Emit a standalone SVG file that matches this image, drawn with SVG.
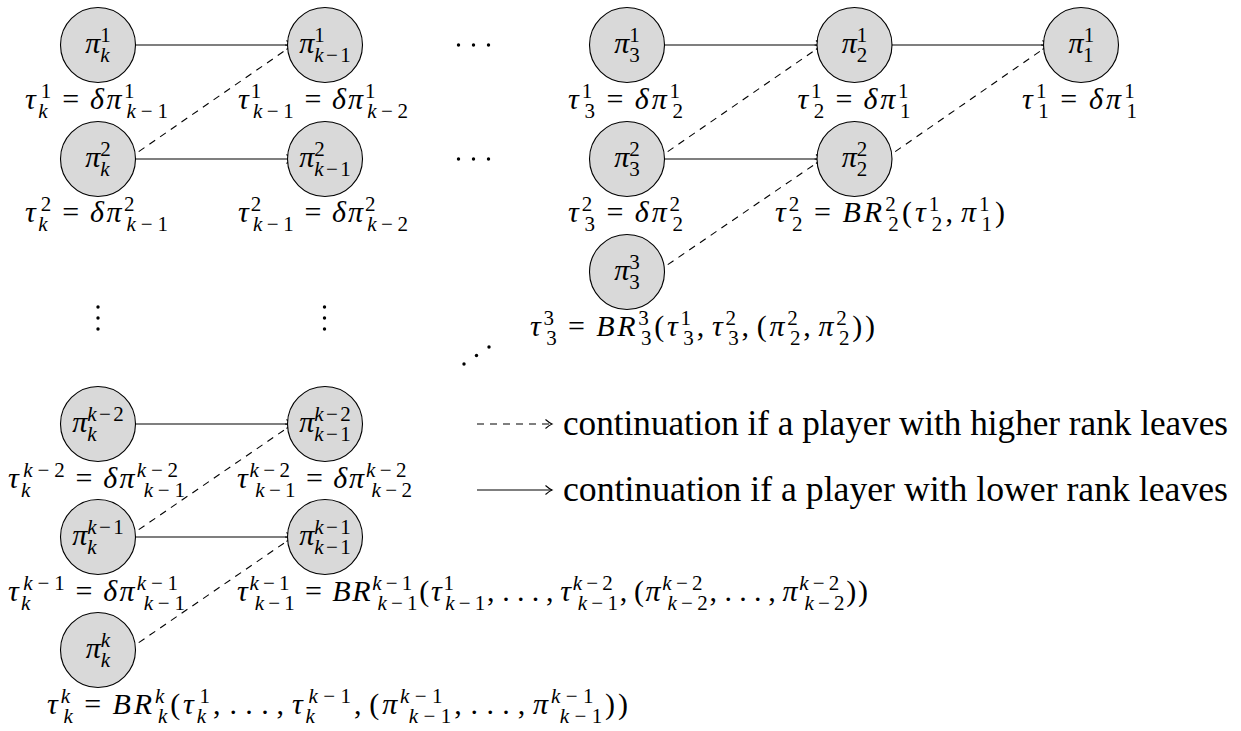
<svg xmlns="http://www.w3.org/2000/svg" width="1241" height="731" viewBox="0 0 1241 731">
<style>
.m{font-family:"Liberation Serif","DejaVu Serif",serif;font-size:30px;fill:#000}
.i{font-style:italic}
.s{font-size:21px}
.leg{font-family:"Liberation Serif","DejaVu Serif",serif;font-size:35px;fill:#000}
.nd{fill:#d9d9d9;stroke:#000;stroke-width:1.1}
.c{fill:none;stroke:#000;stroke-width:1.1;marker-end:url(#ah)}
.d{stroke-dasharray:7 6}
.dot{fill:#000}
</style>
<defs>
<marker id="ah" markerWidth="10" markerHeight="12" viewBox="-8 -6 10 12" refX="0" refY="0" orient="auto" markerUnits="userSpaceOnUse">
<path d="M-6.5,-4.5 Q-2.5,-1 0,0 Q-2.5,1 -6.5,4.5" fill="none" stroke="#000" stroke-width="1.1"/>
</marker>
</defs>
<rect width="1241" height="731" fill="#fff"/>

<g id="connectors">
<path class="c" d="M128,45 H293"/>
<path class="c" d="M128,159 H293"/>
<path class="c" d="M657,45 H822.5"/>
<path class="c" d="M884.5,45 H1049"/>
<path class="c" d="M657,159 H822.5"/>
<path class="c" d="M128,424 H293"/>
<path class="c" d="M128,537 H293"/>
<path class="c d" d="M128,159 L293,45"/>
<path class="c d" d="M657,159 L822.5,45"/>
<path class="c d" d="M657,272 L822.5,159"/>
<path class="c d" d="M884.5,159 L1049,45"/>
<path class="c d" d="M128,537 L293,424"/>
<path class="c d" d="M128,650 L293,537"/>
</g>

<g id="node-k-1">
<circle class="nd" cx="98" cy="45" r="37.5"/>
<text class="m" x="98" y="53" text-anchor="middle"><tspan class="i">π</tspan><tspan class="s i" dy="9">k</tspan><tspan class="s" dx="-9.32" dy="-20">1</tspan></text>
<text class="m" x="96.5" y="108.5" text-anchor="middle" textLength="143" lengthAdjust="spacing"><tspan class="i">τ</tspan><tspan class="s i" dy="9">k</tspan><tspan class="s" dx="-9.32" dy="-20">1</tspan><tspan dx="8.5" dy="11">=</tspan><tspan class="i" dx="8.5">δπ</tspan><tspan class="s" dy="-11">1</tspan><tspan class="s" dx="-10.5" dy="20"><tspan class="i">k</tspan><tspan dx="2.5">−</tspan><tspan dx="2.5">1</tspan></tspan></text>
</g>
<g id="node-km1-1">
<circle class="nd" cx="325" cy="45" r="37.5"/>
<text class="m" x="325" y="53" text-anchor="middle"><tspan class="i">π</tspan><tspan class="s" dy="-11">1</tspan><tspan class="s" dx="-10.5" dy="20"><tspan class="i">k</tspan><tspan dx="2.5">−</tspan><tspan dx="2.5">1</tspan></tspan></text>
<text class="m" x="323" y="108.5" text-anchor="middle" textLength="170" lengthAdjust="spacing"><tspan class="i">τ</tspan><tspan class="s" dy="-11">1</tspan><tspan class="s" dx="-10.5" dy="20"><tspan class="i">k</tspan><tspan dx="2.5">−</tspan><tspan dx="2.5">1</tspan></tspan><tspan dx="8.5" dy="-9">=</tspan><tspan class="i" dx="8.5">δπ</tspan><tspan class="s" dy="-11">1</tspan><tspan class="s" dx="-10.5" dy="20"><tspan class="i">k</tspan><tspan dx="2.5">−</tspan><tspan dx="2.5">2</tspan></tspan></text>
</g>
<g id="node-k-2">
<circle class="nd" cx="98" cy="159" r="37.5"/>
<text class="m" x="98" y="167" text-anchor="middle"><tspan class="i">π</tspan><tspan class="s i" dy="9">k</tspan><tspan class="s" dx="-9.32" dy="-20">2</tspan></text>
<text class="m" x="96.5" y="222" text-anchor="middle" textLength="143" lengthAdjust="spacing"><tspan class="i">τ</tspan><tspan class="s i" dy="9">k</tspan><tspan class="s" dx="-9.32" dy="-20">2</tspan><tspan dx="8.5" dy="11">=</tspan><tspan class="i" dx="8.5">δπ</tspan><tspan class="s" dy="-11">2</tspan><tspan class="s" dx="-10.5" dy="20"><tspan class="i">k</tspan><tspan dx="2.5">−</tspan><tspan dx="2.5">1</tspan></tspan></text>
</g>
<g id="node-km1-2">
<circle class="nd" cx="325" cy="159" r="37.5"/>
<text class="m" x="325" y="167" text-anchor="middle"><tspan class="i">π</tspan><tspan class="s" dy="-11">2</tspan><tspan class="s" dx="-10.5" dy="20"><tspan class="i">k</tspan><tspan dx="2.5">−</tspan><tspan dx="2.5">1</tspan></tspan></text>
<text class="m" x="323" y="222" text-anchor="middle" textLength="170" lengthAdjust="spacing"><tspan class="i">τ</tspan><tspan class="s" dy="-11">2</tspan><tspan class="s" dx="-10.5" dy="20"><tspan class="i">k</tspan><tspan dx="2.5">−</tspan><tspan dx="2.5">1</tspan></tspan><tspan dx="8.5" dy="-9">=</tspan><tspan class="i" dx="8.5">δπ</tspan><tspan class="s" dy="-11">2</tspan><tspan class="s" dx="-10.5" dy="20"><tspan class="i">k</tspan><tspan dx="2.5">−</tspan><tspan dx="2.5">2</tspan></tspan></text>
</g>

<g id="node-3-1">
<circle class="nd" cx="627" cy="45" r="37.5"/>
<text class="m" x="627" y="53" text-anchor="middle"><tspan class="i">π</tspan><tspan class="s" dy="-11">1</tspan><tspan class="s" dx="-10.5" dy="20">3</tspan></text>
<text class="m" x="625.5" y="108.5" text-anchor="middle" textLength="115" lengthAdjust="spacing"><tspan class="i">τ</tspan><tspan class="s" dy="-11">1</tspan><tspan class="s" dx="-10.5" dy="20">3</tspan><tspan dx="8.5" dy="-9">=</tspan><tspan class="i" dx="8.5">δπ</tspan><tspan class="s" dy="-11">1</tspan><tspan class="s" dx="-10.5" dy="20">2</tspan></text>
</g>
<g id="node-2-1">
<circle class="nd" cx="854.5" cy="45" r="37.5"/>
<text class="m" x="854.5" y="53" text-anchor="middle"><tspan class="i">π</tspan><tspan class="s" dy="-11">1</tspan><tspan class="s" dx="-10.5" dy="20">2</tspan></text>
<text class="m" x="854" y="108.5" text-anchor="middle" textLength="113" lengthAdjust="spacing"><tspan class="i">τ</tspan><tspan class="s" dy="-11">1</tspan><tspan class="s" dx="-10.5" dy="20">2</tspan><tspan dx="8.5" dy="-9">=</tspan><tspan class="i" dx="8.5">δπ</tspan><tspan class="s" dy="-11">1</tspan><tspan class="s" dx="-10.5" dy="20">1</tspan></text>
</g>
<g id="node-1-1">
<circle class="nd" cx="1081" cy="45" r="37.5"/>
<text class="m" x="1081" y="53" text-anchor="middle"><tspan class="i">π</tspan><tspan class="s" dy="-11">1</tspan><tspan class="s" dx="-10.5" dy="20">1</tspan></text>
<text class="m" x="1079.5" y="108.5" text-anchor="middle" textLength="115" lengthAdjust="spacing"><tspan class="i">τ</tspan><tspan class="s" dy="-11">1</tspan><tspan class="s" dx="-10.5" dy="20">1</tspan><tspan dx="8.5" dy="-9">=</tspan><tspan class="i" dx="8.5">δπ</tspan><tspan class="s" dy="-11">1</tspan><tspan class="s" dx="-10.5" dy="20">1</tspan></text>
</g>
<g id="node-3-2">
<circle class="nd" cx="627" cy="159" r="37.5"/>
<text class="m" x="627" y="167" text-anchor="middle"><tspan class="i">π</tspan><tspan class="s" dy="-11">2</tspan><tspan class="s" dx="-10.5" dy="20">3</tspan></text>
<text class="m" x="625.5" y="222" text-anchor="middle" textLength="115" lengthAdjust="spacing"><tspan class="i">τ</tspan><tspan class="s" dy="-11">2</tspan><tspan class="s" dx="-10.5" dy="20">3</tspan><tspan dx="8.5" dy="-9">=</tspan><tspan class="i" dx="8.5">δπ</tspan><tspan class="s" dy="-11">2</tspan><tspan class="s" dx="-10.5" dy="20">2</tspan></text>
</g>
<g id="node-2-2">
<circle class="nd" cx="854.5" cy="159" r="37.5"/>
<text class="m" x="854.5" y="167" text-anchor="middle"><tspan class="i">π</tspan><tspan class="s" dy="-11">2</tspan><tspan class="s" dx="-10.5" dy="20">2</tspan></text>
<text class="m" x="775" y="222" textLength="230" lengthAdjust="spacing"><tspan class="i">τ</tspan><tspan class="s" dy="-11">2</tspan><tspan class="s" dx="-10.5" dy="20">2</tspan><tspan dx="8.5" dy="-9">=</tspan><tspan class="i" dx="8.5">BR</tspan><tspan class="s" dy="-11">2</tspan><tspan class="s" dx="-10.5" dy="20">2</tspan><tspan dy="-9">(</tspan><tspan class="i">τ</tspan><tspan class="s" dy="-11">1</tspan><tspan class="s" dx="-10.5" dy="20">2</tspan><tspan dy="-9">,</tspan><tspan class="i" dx="5">π</tspan><tspan class="s" dy="-11">1</tspan><tspan class="s" dx="-10.5" dy="20">1</tspan><tspan dy="-9">)</tspan></text>
</g>
<g id="node-3-3">
<circle class="nd" cx="627" cy="272" r="37.5"/>
<text class="m" x="627" y="280" text-anchor="middle"><tspan class="i">π</tspan><tspan class="s" dy="-11">3</tspan><tspan class="s" dx="-10.5" dy="20">3</tspan></text>
<text class="m" x="530" y="335.5" textLength="345" lengthAdjust="spacing"><tspan class="i">τ</tspan><tspan class="s" dy="-11">3</tspan><tspan class="s" dx="-10.5" dy="20">3</tspan><tspan dx="8.5" dy="-9">=</tspan><tspan class="i" dx="8.5">BR</tspan><tspan class="s" dy="-11">3</tspan><tspan class="s" dx="-10.5" dy="20">3</tspan><tspan dy="-9">(</tspan><tspan class="i">τ</tspan><tspan class="s" dy="-11">1</tspan><tspan class="s" dx="-10.5" dy="20">3</tspan><tspan dy="-9">,</tspan><tspan class="i" dx="5">τ</tspan><tspan class="s" dy="-11">2</tspan><tspan class="s" dx="-10.5" dy="20">3</tspan><tspan dy="-9">,</tspan><tspan dx="5">(</tspan><tspan class="i">π</tspan><tspan class="s" dy="-11">2</tspan><tspan class="s" dx="-10.5" dy="20">2</tspan><tspan dy="-9">,</tspan><tspan class="i" dx="5">π</tspan><tspan class="s" dy="-11">2</tspan><tspan class="s" dx="-10.5" dy="20">2</tspan><tspan dy="-9">))</tspan></text>
</g>

<g id="node-k-km2">
<circle class="nd" cx="98" cy="424" r="37.5"/>
<text class="m" x="98" y="432" text-anchor="middle"><tspan class="i">π</tspan><tspan class="s i" dy="9">k</tspan><tspan class="s" dx="-9.32" dy="-20"><tspan class="i">k</tspan><tspan dx="2.5">−</tspan><tspan dx="2.5">2</tspan></tspan></text>
<text class="m" x="96.5" y="487.5" text-anchor="middle" textLength="177" lengthAdjust="spacing"><tspan class="i">τ</tspan><tspan class="s i" dy="9">k</tspan><tspan class="s" dx="-9.32" dy="-20"><tspan class="i">k</tspan><tspan dx="2.5">−</tspan><tspan dx="2.5">2</tspan></tspan><tspan dx="8.5" dy="11">=</tspan><tspan class="i" dx="8.5">δπ</tspan><tspan class="s" dy="-11"><tspan class="i">k</tspan><tspan dx="2.5">−</tspan><tspan dx="2.5">2</tspan></tspan><tspan class="s" dx="-36.66" dy="20"><tspan class="i">k</tspan><tspan dx="2.5">−</tspan><tspan dx="2.5">1</tspan></tspan></text>
</g>
<g id="node-km1-km2">
<circle class="nd" cx="325" cy="424" r="37.5"/>
<text class="m" x="325" y="432" text-anchor="middle"><tspan class="i">π</tspan><tspan class="s" dy="-11"><tspan class="i">k</tspan><tspan dx="2.5">−</tspan><tspan dx="2.5">2</tspan></tspan><tspan class="s" dx="-36.66" dy="20"><tspan class="i">k</tspan><tspan dx="2.5">−</tspan><tspan dx="2.5">1</tspan></tspan></text>
<text class="m" x="324.5" y="487.5" text-anchor="middle" textLength="175" lengthAdjust="spacing"><tspan class="i">τ</tspan><tspan class="s" dy="-11"><tspan class="i">k</tspan><tspan dx="2.5">−</tspan><tspan dx="2.5">2</tspan></tspan><tspan class="s" dx="-36.66" dy="20"><tspan class="i">k</tspan><tspan dx="2.5">−</tspan><tspan dx="2.5">1</tspan></tspan><tspan dx="8.5" dy="-9">=</tspan><tspan class="i" dx="8.5">δπ</tspan><tspan class="s" dy="-11"><tspan class="i">k</tspan><tspan dx="2.5">−</tspan><tspan dx="2.5">2</tspan></tspan><tspan class="s" dx="-36.66" dy="20"><tspan class="i">k</tspan><tspan dx="2.5">−</tspan><tspan dx="2.5">2</tspan></tspan></text>
</g>
<g id="node-k-km1">
<circle class="nd" cx="98" cy="537" r="37.5"/>
<text class="m" x="98" y="545" text-anchor="middle"><tspan class="i">π</tspan><tspan class="s i" dy="9">k</tspan><tspan class="s" dx="-9.32" dy="-20"><tspan class="i">k</tspan><tspan dx="2.5">−</tspan><tspan dx="2.5">1</tspan></tspan></text>
<text class="m" x="96.5" y="600.5" text-anchor="middle" textLength="177" lengthAdjust="spacing"><tspan class="i">τ</tspan><tspan class="s i" dy="9">k</tspan><tspan class="s" dx="-9.32" dy="-20"><tspan class="i">k</tspan><tspan dx="2.5">−</tspan><tspan dx="2.5">1</tspan></tspan><tspan dx="8.5" dy="11">=</tspan><tspan class="i" dx="8.5">δπ</tspan><tspan class="s" dy="-11"><tspan class="i">k</tspan><tspan dx="2.5">−</tspan><tspan dx="2.5">1</tspan></tspan><tspan class="s" dx="-36.66" dy="20"><tspan class="i">k</tspan><tspan dx="2.5">−</tspan><tspan dx="2.5">1</tspan></tspan></text>
</g>
<g id="node-km1-km1">
<circle class="nd" cx="325" cy="537" r="37.5"/>
<text class="m" x="325" y="545" text-anchor="middle"><tspan class="i">π</tspan><tspan class="s" dy="-11"><tspan class="i">k</tspan><tspan dx="2.5">−</tspan><tspan dx="2.5">1</tspan></tspan><tspan class="s" dx="-36.66" dy="20"><tspan class="i">k</tspan><tspan dx="2.5">−</tspan><tspan dx="2.5">1</tspan></tspan></text>
<text class="m" x="237" y="600.5" textLength="631" lengthAdjust="spacing"><tspan class="i">τ</tspan><tspan class="s" dy="-11"><tspan class="i">k</tspan><tspan dx="2.5">−</tspan><tspan dx="2.5">1</tspan></tspan><tspan class="s" dx="-36.66" dy="20"><tspan class="i">k</tspan><tspan dx="2.5">−</tspan><tspan dx="2.5">1</tspan></tspan><tspan dx="8.5" dy="-9">=</tspan><tspan class="i" dx="8.5">BR</tspan><tspan class="s" dy="-11"><tspan class="i">k</tspan><tspan dx="2.5">−</tspan><tspan dx="2.5">1</tspan></tspan><tspan class="s" dx="-36.66" dy="20"><tspan class="i">k</tspan><tspan dx="2.5">−</tspan><tspan dx="2.5">1</tspan></tspan><tspan dy="-9">(</tspan><tspan class="i">τ</tspan><tspan class="s" dy="-11">1</tspan><tspan class="s" dx="-10.5" dy="20"><tspan class="i">k</tspan><tspan dx="2.5">−</tspan><tspan dx="2.5">1</tspan></tspan><tspan dy="-9">,</tspan><tspan dx="6">.</tspan><tspan dx="5.5">.</tspan><tspan dx="5.5">.</tspan><tspan dx="5">,</tspan><tspan class="i" dx="5">τ</tspan><tspan class="s" dy="-11"><tspan class="i">k</tspan><tspan dx="2.5">−</tspan><tspan dx="2.5">2</tspan></tspan><tspan class="s" dx="-36.66" dy="20"><tspan class="i">k</tspan><tspan dx="2.5">−</tspan><tspan dx="2.5">1</tspan></tspan><tspan dy="-9">,</tspan><tspan dx="5">(</tspan><tspan class="i">π</tspan><tspan class="s" dy="-11"><tspan class="i">k</tspan><tspan dx="2.5">−</tspan><tspan dx="2.5">2</tspan></tspan><tspan class="s" dx="-36.66" dy="20"><tspan class="i">k</tspan><tspan dx="2.5">−</tspan><tspan dx="2.5">2</tspan></tspan><tspan dy="-9">,</tspan><tspan dx="6">.</tspan><tspan dx="5.5">.</tspan><tspan dx="5.5">.</tspan><tspan dx="5">,</tspan><tspan class="i" dx="5">π</tspan><tspan class="s" dy="-11"><tspan class="i">k</tspan><tspan dx="2.5">−</tspan><tspan dx="2.5">2</tspan></tspan><tspan class="s" dx="-36.66" dy="20"><tspan class="i">k</tspan><tspan dx="2.5">−</tspan><tspan dx="2.5">2</tspan></tspan><tspan dy="-9">))</tspan></text>
</g>
<g id="node-k-k">
<circle class="nd" cx="98" cy="650" r="37.5"/>
<text class="m" x="98" y="658" text-anchor="middle"><tspan class="i">π</tspan><tspan class="s i" dy="-11">k</tspan><tspan class="s i" dx="-9.32" dy="20">k</tspan></text>
<text class="m" x="47" y="713.5" textLength="581" lengthAdjust="spacing"><tspan class="i">τ</tspan><tspan class="s i" dy="-11">k</tspan><tspan class="s i" dx="-9.32" dy="20">k</tspan><tspan dx="8.5" dy="-9">=</tspan><tspan class="i" dx="8.5">BR</tspan><tspan class="s i" dy="-11">k</tspan><tspan class="s i" dx="-9.32" dy="20">k</tspan><tspan dy="-9">(</tspan><tspan class="i">τ</tspan><tspan class="s i" dy="9">k</tspan><tspan class="s" dx="-9.32" dy="-20">1</tspan><tspan dy="11">,</tspan><tspan dx="6">.</tspan><tspan dx="5.5">.</tspan><tspan dx="5.5">.</tspan><tspan dx="5">,</tspan><tspan class="i" dx="5">τ</tspan><tspan class="s i" dy="9">k</tspan><tspan class="s" dx="-9.32" dy="-20"><tspan class="i">k</tspan><tspan dx="2.5">−</tspan><tspan dx="2.5">1</tspan></tspan><tspan dy="11">,</tspan><tspan dx="5">(</tspan><tspan class="i">π</tspan><tspan class="s" dy="-11"><tspan class="i">k</tspan><tspan dx="2.5">−</tspan><tspan dx="2.5">1</tspan></tspan><tspan class="s" dx="-36.66" dy="20"><tspan class="i">k</tspan><tspan dx="2.5">−</tspan><tspan dx="2.5">1</tspan></tspan><tspan dy="-9">,</tspan><tspan dx="6">.</tspan><tspan dx="5.5">.</tspan><tspan dx="5.5">.</tspan><tspan dx="5">,</tspan><tspan class="i" dx="5">π</tspan><tspan class="s" dy="-11"><tspan class="i">k</tspan><tspan dx="2.5">−</tspan><tspan dx="2.5">1</tspan></tspan><tspan class="s" dx="-36.66" dy="20"><tspan class="i">k</tspan><tspan dx="2.5">−</tspan><tspan dx="2.5">1</tspan></tspan><tspan dy="-9">))</tspan></text>
</g>

<g id="ellipses">
<circle class="dot" cx="458.5" cy="45" r="1.7"/><circle class="dot" cx="473.5" cy="45" r="1.7"/><circle class="dot" cx="488.5" cy="45" r="1.7"/>
<circle class="dot" cx="458.5" cy="159" r="1.7"/><circle class="dot" cx="473.5" cy="159" r="1.7"/><circle class="dot" cx="488.5" cy="159" r="1.7"/>
<circle class="dot" cx="98" cy="307" r="1.7"/><circle class="dot" cx="98" cy="318" r="1.7"/><circle class="dot" cx="98" cy="329" r="1.7"/>
<circle class="dot" cx="324.5" cy="307" r="1.7"/><circle class="dot" cx="324.5" cy="318" r="1.7"/><circle class="dot" cx="324.5" cy="329" r="1.7"/>
<circle class="dot" cx="464" cy="364" r="1.7"/><circle class="dot" cx="476.5" cy="355.5" r="1.7"/><circle class="dot" cx="489" cy="347" r="1.7"/>
</g>

<g id="legend">
<path class="c d" d="M477,424 H552"/>
<text class="leg" x="563" y="435" textLength="665" lengthAdjust="spacingAndGlyphs">continuation if a player with higher rank leaves</text>
<path class="c" d="M477,490 H552"/>
<text class="leg" x="563" y="501" textLength="665" lengthAdjust="spacingAndGlyphs">continuation if a player with lower rank leaves</text>
</g>
</svg>
